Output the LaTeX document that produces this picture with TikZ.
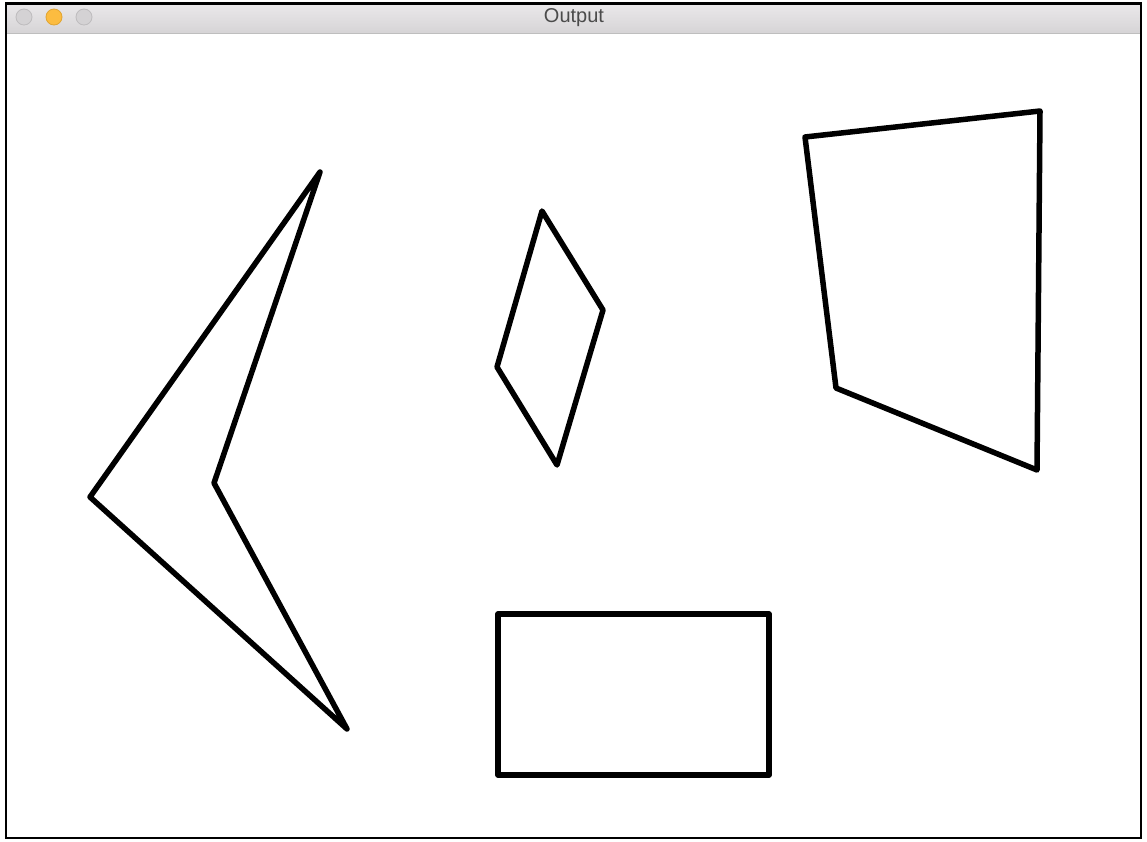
\documentclass[tikz,border=0pt]{standalone}
\usepackage{fontspec}
\setmainfont{Liberation Sans}
\definecolor{barTop}{RGB}{234,232,234}
\definecolor{barBot}{RGB}{214,212,214}
\definecolor{barLine}{RGB}{190,190,190}
\definecolor{btnGrey}{RGB}{212,210,212}
\definecolor{btnGreyEdge}{RGB}{190,188,190}
\definecolor{btnYellow}{RGB}{252,188,64}
\definecolor{btnYellowEdge}{RGB}{225,165,50}
\definecolor{titleText}{RGB}{75,75,75}
\begin{document}
\begin{tikzpicture}[x=1pt,y=-1pt,
  outline/.style={line width=5.5pt,line join=round,line cap=round,black},
  btn/.style={circle,minimum size=16pt,inner sep=0pt,line width=0.8pt}]
\useasboundingbox (0,0) rectangle (1147,841);
\fill[white] (0,0) rectangle (1147,841);
% title bar
\shade[top color=barTop,bottom color=barBot] (6,4) rectangle (1141,33);
\draw[barLine,line width=1pt] (6,33) -- (1141,33);
\node[btn,fill=btnGrey,draw=btnGreyEdge] (b1) at (24,17) {};
\node[btn,fill=btnYellow,draw=btnYellowEdge] (b2) at (54,17) {};
\node[btn,fill=btnGrey,draw=btnGreyEdge] (b3) at (84,17) {};
\node[text=titleText,font=\fontsize{20pt}{22pt}\selectfont,inner sep=0pt] (title) at (574,18) {Output};
% window frame
\draw[black,line width=2.5pt] (6,3.5) rectangle (1141,838);
% shapes
\draw[outline] (320,172) -- (90,497) -- (347,729) -- (214,483) -- cycle;
\draw[outline] (542,211) -- (603,310) -- (557,465) -- (497,367) -- cycle;
\draw[outline] (805,137) -- (1040,111) -- (1037,470) -- (836,388) -- cycle;
\draw[outline] (498,614) rectangle (769,775);
\end{tikzpicture}
\end{document}
